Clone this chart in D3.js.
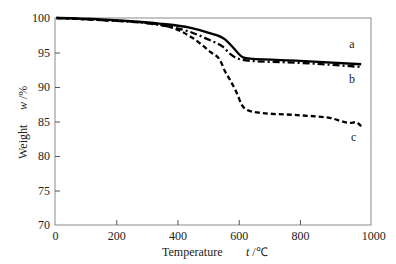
<!DOCTYPE html>
<html>
<head>
<meta charset="utf-8">
<script src="https://cdn.jsdelivr.net/npm/d3@7"></script>
<style>
  body { margin: 0; background: #fff; }
  text { font-family: "Liberation Serif", "Times New Roman", serif; fill: #222; }
</style>
</head>
<body>
<div id="chart"></div>
<script>
// ---------------- data ----------------
const xTicks = [0, 200, 400, 600, 800, 1000];
const yTicks = [70, 75, 80, 85, 90, 95, 100];

// curve a (solid)
const tempA   = [5, 150, 340, 440, 505, 555, 578, 598, 614, 637, 800, 1000];
const weightA = [100, 99.8, 99.2, 98.6, 97.8, 96.9, 95.9, 94.9, 94.3, 94.1, 93.8, 93.3];

// curve b (dash-dot)
const tempB   = [5, 150, 340, 440, 505, 549, 572, 598, 637, 800, 1000];
const weightB = [100, 99.7, 99.0, 98.0, 96.8, 95.8, 94.8, 94.1, 93.8, 93.5, 92.9];

// curve c (dashed)
const tempC   = [5, 150, 295, 375, 450, 507, 539, 556, 572, 594, 610, 626, 663, 800, 900, 964, 982, 1000];
const weightC = [100, 99.7, 99.3, 98.7, 97.1, 95.1, 93.9, 92.2, 91.0, 89.1, 87.4, 86.7, 86.3, 85.9, 85.5, 84.8, 84.9, 84.3];

const curveNames = ["a", "b", "c"];

// ---------------- layout ----------------
const width = 396, height = 264;
const plotL = 55, plotR = 371, plotT = 18, plotB = 225;

const svg = d3.select("#chart").append("svg")
  .attr("width", width)
  .attr("height", height);

// ---------------- scales ----------------
const x = d3.scaleLinear().domain([0, 1032]).range([plotL, plotR]);
const y = d3.scaleLinear().domain([70, 100]).range([plotB, plotT]);

// frame
svg.append("rect")
  .attr("x", plotL).attr("y", plotT)
  .attr("width", plotR - plotL).attr("height", plotB - plotT)
  .attr("fill", "none")
  .attr("stroke", "#8c8c8c")
  .attr("stroke-width", 1);

// ---------------- axes ----------------
const xAxis = svg.append("g")
  .attr("transform", `translate(0,${plotB})`)
  .call(d3.axisBottom(x).tickValues(xTicks).tickFormat(d3.format("d"))
    .tickSizeInner(-5).tickSizeOuter(0).tickPadding(6));

const yAxis = svg.append("g")
  .attr("transform", `translate(${plotL},0)`)
  .call(d3.axisLeft(y).tickValues(yTicks).tickFormat(d3.format("d"))
    .tickSizeInner(-5).tickSizeOuter(0).tickPadding(5));

[xAxis, yAxis].forEach(g => {
  g.select(".domain").remove();
  g.selectAll("line").attr("stroke", "#555");
  g.selectAll("text").style("font-size", "12px").attr("fill", "#222")
    .style("font-family", '"Liberation Serif", "Times New Roman", serif');
});
// no tick marks on the frame ends
xAxis.selectAll(".tick").filter(d => d === 0 || d === 1000).select("line").remove();
yAxis.selectAll(".tick").filter(d => d === 70 || d === 100).select("line").remove();
// the 1000 label sits at the frame edge in the original
xAxis.selectAll(".tick").filter(d => d === 1000).select("text").attr("dx", 12);

// axis titles
const xTitle = svg.append("text")
  .attr("x", 162).attr("y", 256)
  .attr("fill", "#222")
  .style("font-size", "12px");
xTitle.append("tspan").text("Temperature");
xTitle.append("tspan").attr("x", 246).style("font-style", "italic").text("t");
xTitle.append("tspan").text(" /℃");

const yTitle = svg.append("text")
  .attr("transform", "translate(27,159) rotate(-90)")
  .attr("fill", "#222")
  .style("font-size", "12px");
yTitle.append("tspan").text("Weight");
yTitle.append("tspan").attr("x", 49).style("font-style", "italic").text("w");
yTitle.append("tspan").text(" /%");

// ---------------- curves ----------------
const line = d3.line()
  .x(d => x(d[0]))
  .y(d => y(d[1]))
  .curve(d3.curveMonotoneX);

const series = [
  { pts: d3.zip(tempA, weightA), dash: null },
  { pts: d3.zip(tempB, weightB), dash: "7,3,2,3" },
  { pts: d3.zip(tempC, weightC), dash: "5,3" }
];

svg.append("g").selectAll("path")
  .data(series)
  .join("path")
  .attr("d", d => line(d.pts))
  .attr("fill", "none")
  .attr("stroke", "#000")
  .attr("stroke-width", 2.3)
  .attr("stroke-dasharray", d => d.dash);

// curve labels
const labelPos = [[970, 95.7], [970, 90.6], [975, 82.2]];
svg.append("g").selectAll("text")
  .data(curveNames)
  .join("text")
  .attr("x", (d, i) => x(labelPos[i][0]))
  .attr("y", (d, i) => y(labelPos[i][1]))
  .attr("text-anchor", "middle")
  .attr("fill", "#222")
  .style("font-size", "12px")
  .text(d => d);
</script>
</body>
</html>
